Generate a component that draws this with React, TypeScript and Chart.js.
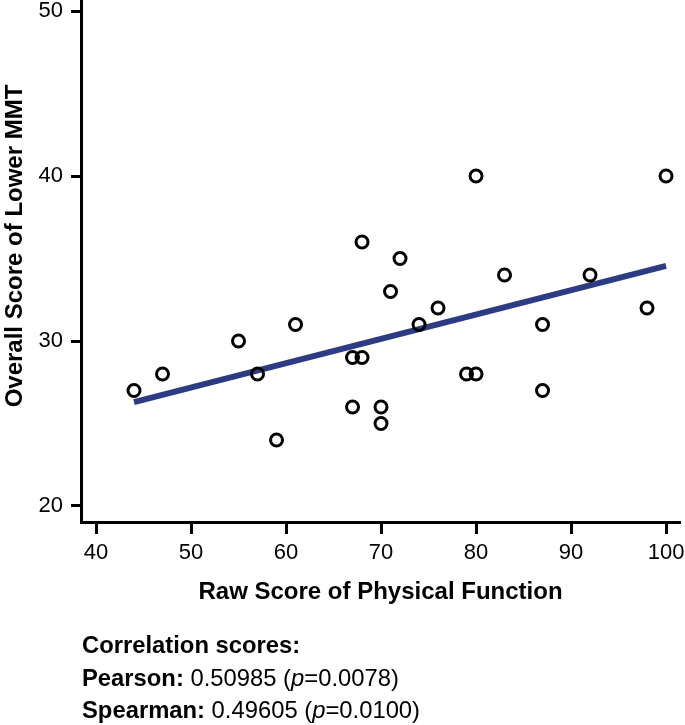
import React, { useEffect, useRef } from "react";
import { Chart, registerables } from "chart.js";

Chart.register(...registerables);

const physicalFunction = [44, 47, 55, 57, 59, 61, 67, 68, 67, 68, 70, 70, 71, 72, 74, 76, 79, 80, 80, 83, 87, 87, 92, 98, 100];
const lowerMMT = [27, 28, 30, 28, 24, 31, 29, 29, 26, 36, 26, 25, 33, 35, 31, 32, 28, 28, 40, 34, 31, 27, 34, 32, 40];
const fitX = [44, 100];
const fitY = [26.3, 34.55];
const xTicks = [40, 50, 60, 70, 80, 90, 100];
const yTicks = [20, 30, 40, 50];
const yTitle = "Overall Score of Lower MMT";
const xTitle = "Raw Score of Physical Function";

const FONT = "'Liberation Sans', Arial, Helvetica, sans-serif";

const yTitlePlugin = {
  id: "yTitlePlugin",
  afterDraw(chart: any) {
    const ctx = chart.ctx;
    ctx.save();
    ctx.translate(15, 246);
    ctx.rotate(-Math.PI / 2);
    ctx.font = `bold 24px ${FONT}`;
    ctx.fillStyle = "#000";
    ctx.textAlign = "center";
    ctx.textBaseline = "middle";
    ctx.fillText(yTitle, 0, 0);
    ctx.restore();
  },
};

export default function App() {
  const ref = useRef<HTMLCanvasElement | null>(null);

  useEffect(() => {
    if (!ref.current) return;
    const chart = new Chart(ref.current, {
      type: "scatter",
      data: {
        datasets: [
          {
            type: "scatter",
            data: physicalFunction.map((x, i) => ({ x, y: lowerMMT[i] })),
            pointStyle: "circle",
            pointRadius: 6,
            pointBorderWidth: 3,
            pointBorderColor: "#000",
            pointBackgroundColor: "rgba(0,0,0,0)",
            order: 0,
          },
          {
            type: "line",
            data: fitX.map((x, i) => ({ x, y: fitY[i] })),
            borderColor: "#2d3a84",
            borderWidth: 6,
            pointRadius: 0,
            fill: false,
            order: 1,
          } as any,
        ],
      },
      plugins: [yTitlePlugin],
      options: {
        animation: false,
        responsive: false,
        devicePixelRatio: 1,
        layout: { autoPadding: false, padding: { left: 0, right: 5, top: 0, bottom: 113 } },
        plugins: { legend: { display: false }, tooltip: { enabled: false } },
        scales: {
          x: {
            type: "linear",
            min: 38.42,
            max: 101.47,
            afterBuildTicks: (s: any) => {
              s.ticks = xTicks.map((v) => ({ value: v }));
            },
            afterFit: (s: any) => {
              s.height = 90;
              s.paddingLeft = 0;
              s.paddingRight = 0;
            },
            border: { display: true, color: "#000", width: 3 },
            grid: {
              display: true,
              drawOnChartArea: false,
              drawTicks: true,
              tickLength: 12,
              tickWidth: 3,
              tickColor: "#000",
            },
            ticks: {
              color: "#000",
              padding: 6,
              font: { family: FONT, size: 22 },
              callback: (v: any) => String(v),
            },
            title: {
              display: true,
              text: xTitle,
              color: "#000",
              font: { family: FONT, size: 24, weight: "bold" },
              padding: { top: 0, bottom: 5 },
            },
          },
          y: {
            type: "linear",
            min: 19.03,
            max: 50.67,
            afterBuildTicks: (s: any) => {
              s.ticks = yTicks.map((v) => ({ value: v }));
            },
            afterFit: (s: any) => {
              s.width = 81;
              s.paddingTop = 0;
              s.paddingBottom = 0;
            },
            border: { display: true, color: "#000", width: 3 },
            grid: {
              display: true,
              drawOnChartArea: false,
              drawTicks: true,
              tickLength: 10,
              tickWidth: 3,
              tickColor: "#000",
            },
            ticks: {
              color: "#000",
              padding: 8,
              font: { family: FONT, size: 22 },
              callback: (v: any) => String(v),
            },
            title: { display: false },
          },
        },
      },
    });
    return () => chart.destroy();
  }, []);

  return (
    <div style={{ position: "absolute", left: 0, top: 0, width: 685, height: 725, background: "#fff" }}>
      <canvas ref={ref} width={685} height={725} style={{ width: 685, height: 725, display: "block" }} />
      <div
        style={{
          position: "absolute",
          left: 82,
          top: 629,
          fontFamily: FONT,
          fontSize: 23.8,
          lineHeight: "32.5px",
          color: "#000",
          whiteSpace: "nowrap",
        }}
      >
        <div><b>Correlation scores:</b></div>
        <div><b>Pearson:</b> 0.50985 (<i>p</i>=0.0078)</div>
        <div><b>Spearman:</b> 0.49605 (<i>p</i>=0.0100)</div>
      </div>
    </div>
  );
}
